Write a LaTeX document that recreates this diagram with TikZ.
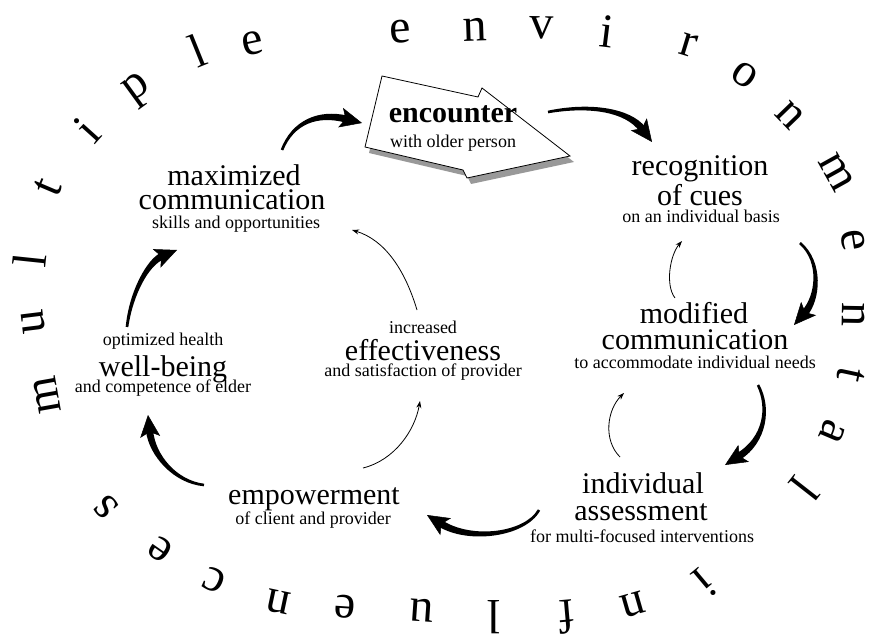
\documentclass[tikz,border=0pt]{standalone}
\usepackage{fontspec}
\setmainfont{Liberation Serif}
\usetikzlibrary{arrows.meta,calc}
\tikzset{
  ringletter/.style={inner sep=0pt, font=\fontsize{48}{48}\selectfont},
  bigtxt/.style={inner sep=0pt, font=\fontsize{30}{30}\selectfont},
  smalltxt/.style={inner sep=0pt, font=\fontsize{18}{18}\selectfont},
  boldtxt/.style={inner sep=0pt, font=\fontsize{30}{30}\selectfont\bfseries},
  bighead/.style={line width=0.5pt, -{Stealth[length=22pt,width=20pt,inset=5pt]}},
  thinarrow/.style={line width=0.8pt, -{Stealth[length=7pt,width=5pt]}},
  shadowfill/.style={fill=black!40},
}
% tapered thick arrow: #1 start coordinate, #2 control 1, #3 control 2, #4 tip coordinate
\newcommand{\taparrow}[4]{%
  \coordinate (tb) at ($(#4)!16pt!(#3)$);
  \fill ($(#1)!1.3pt!90:(#2)$) .. controls ($(#2)!2.3pt!90:(#3)$) and ($(#3)!3.1pt!90:(tb)$) .. ($(tb)!3.6pt!-90:(#3)$)
     -- ($(tb)!3.6pt!90:(#3)$) .. controls ($(#3)!3.1pt!-90:(tb)$) and ($(#2)!2.3pt!-90:(#3)$) .. ($(#1)!1.3pt!-90:(#2)$) -- cycle;
  \draw[bighead] (tb) -- (#4);
}
\begin{document}
\begin{tikzpicture}[x=1pt,y=-1pt]
\useasboundingbox (0,0) rectangle (870,636);
\fill[white] (0,0) rectangle (870,636);

% ring letters: multiple environmental influences
\foreach \ch/\px/\py/\rt [count=\i] in {
  m/47/395/100, u/33/322/97, l/30/260/84, t/48/187/67, i/87/130/48,
  p/139/90/36, l/197/51/22, e/253/43/12,
  e/400/32/4, n/475/30/2, v/542/28/-1, i/607/32/-7, r/688/45/-17,
  o/745/75/-34, n/790/115/-46, m/836/172/-61, e/853/240/-81, n/854/315/-91,
  t/851/375/-102, a/832/432/-113, l/805/489/-128,
  i/705/583/-140, n/633/605/-164, f/567/617/-175, l/494/617/-180,
  u/422/610/176, e/345/607/176, n/278/602/168, c/214/580/156,
  e/160/549/145, s/106/507/132}
{
  \node[ringletter, rotate=\rt] (ring\i) at (\px,\py) {\ch};
}

% encounter arrow shape
\fill[shadowfill] (386,82) -- (482,103) -- (486,94) -- (574,162) -- (471,184) -- (467,176) -- (369,153) -- cycle;
\draw[fill=white, line width=0.8pt] (382,76) -- (478,97) -- (482,88) -- (570,156) -- (467,178) -- (463,170) -- (365,147) -- cycle;
\node[boldtxt] (enc1) at (453,114) {encounter};
\node[smalltxt] (enc2) at (453,143) {with older person};

% recognition
\node[bigtxt] (rec1) at (700,169) {recognition};
\node[bigtxt] (rec2) at (700,195) {of cues};
\node[smalltxt] (rec3) at (701,216) {on an individual basis};

% modified communication
\node[bigtxt] (mod1) at (694,313) {modified};
\node[bigtxt] (mod2) at (695,340) {communication};
\node[smalltxt] (mod3) at (695,362) {to accommodate individual needs};

% individual assessment
\node[bigtxt] (ind1) at (643,483) {individual};
\node[bigtxt] (ind2) at (641,512) {assessment};
\node[smalltxt] (ind3) at (642,536) {for multi-focused interventions};

% empowerment
\node[bigtxt] (emp1) at (314,499) {empowerment};
\node[smalltxt] (emp2) at (313,520) {of client and provider};

% well-being
\node[smalltxt] (wel1) at (163,341) {optimized health};
\node[bigtxt] (wel2) at (163,369) {well-being};
\node[smalltxt] (wel3) at (163,388) {and competence of elder};

% maximized communication
\node[bigtxt] (max1) at (234,175) {maximized};
\node[bigtxt] (max2) at (232,200) {communication};
\node[smalltxt] (max3) at (236,224) {skills and opportunities};

% effectiveness
\node[smalltxt] (eff1) at (423,327) {increased};
\node[bigtxt] (eff2) at (423,350) {effectiveness};
\node[smalltxt] (eff3) at (423,372) {and satisfaction of provider};

% arrow end points
\coordinate (a1s) at (282,150); \coordinate (a1e) at (362,123);
\coordinate (a2s) at (548,112); \coordinate (a2e) at (652,142);
\coordinate (a3s) at (800,243); \coordinate (a3e) at (794,325);
\coordinate (a4s) at (758,385); \coordinate (a4e) at (725,465);
\coordinate (a5s) at (539,510); \coordinate (a5e) at (427,515);
\coordinate (a6s) at (204,485); \coordinate (a6e) at (148,415);
\coordinate (a7s) at (127,327); \coordinate (a7e) at (177,250);
\coordinate (t1s) at (417,310); \coordinate (t1e) at (352,230);
\coordinate (t2s) at (363,468); \coordinate (t2e) at (420,401);
\coordinate (t3s) at (675,298); \coordinate (t3e) at (682,241);
\coordinate (t4s) at (620,457); \coordinate (t4e) at (624,393);

% thick tapered arrows (outer cycle)
\taparrow{a1s}{293,122}{318,112}{a1e}
\taparrow{a2s}{590,104}{628,110}{a2e}
\taparrow{a3s}{822,262}{818,298}{a3e}
\taparrow{a4s}{770,408}{765,440}{a4e}
\taparrow{a5s}{525,535}{470,542}{a5e}
\taparrow{a6s}{175,482}{152,455}{a6e}
\taparrow{a7s}{131,293}{148,262}{a7e}

% thin arrows (inner cycle)
\draw[thinarrow] (t1s) .. controls (405,270) and (385,240) .. (t1e);
\draw[thinarrow] (t2s) .. controls (395,460) and (415,430) .. (t2e);
\draw[thinarrow] (t3s) .. controls (665,285) and (670,255) .. (t3e);
\draw[thinarrow] (t4s) .. controls (603,440) and (607,410) .. (t4e);
\end{tikzpicture}
\end{document}
